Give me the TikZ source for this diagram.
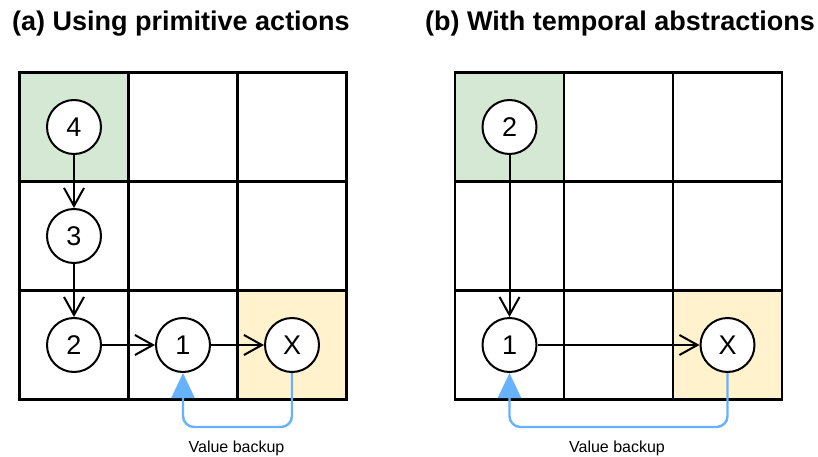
\documentclass[tikz,border=0pt]{standalone}
\usepackage{fontspec}
\setmainfont{Liberation Sans}
\usetikzlibrary{arrows.meta}
\definecolor{cellgreen}{HTML}{D5E8D4}
\definecolor{cellyellow}{HTML}{FFF2CC}
\definecolor{backupblue}{HTML}{66B2FF}
\begin{document}
\begin{tikzpicture}[x=1pt,y=-1pt,
  gridline/.style={line width=2.2pt},
  stnode/.style={circle, draw, line width=2pt, fill=white, minimum size=54pt,
    inner sep=0pt, font=\fontsize{27}{27}\selectfont},
  flow/.style={line width=2pt, -{Straight Barb[length=18pt,width=20pt]}},
  backup/.style={draw=backupblue, line width=2.4pt, rounded corners=11pt,
    -{Triangle[length=25pt,width=23pt,fill=backupblue]}},
  heading/.style={anchor=base west, inner sep=0pt,
    font=\fontsize{27}{27}\selectfont\bfseries},
  caption/.style={anchor=base, inner sep=0pt, font=\fontsize{16}{16}\selectfont}
]
\useasboundingbox (0,0) rectangle (818,457);

% ---------- panel (a): primitive actions ----------
\node[heading] (titlea) at (12,31) {(a) Using primitive actions};
\fill[cellgreen] (19.5,72.5) rectangle ++(109,109);
\fill[cellyellow] (237.5,290.5) rectangle ++(109,109);
\draw[gridline] (19.5,72.5) rectangle (346.5,399.5);
\foreach \t in {128.5,237.5} {\draw[gridline] (\t,72.5) -- (\t,399.5);}
\foreach \t in {181.5,290.5} {\draw[gridline] (19.5,\t) -- (346.5,\t);}

\node[stnode] (a4) at (74,127) {4};
\node[stnode] (a3) at (74,236) {3};
\node[stnode] (a2) at (74,345) {2};
\node[stnode] (a1) at (183,345) {1};
\node[stnode] (ax) at (292,345) {X};

\draw[flow] (a4) -- (a3);
\draw[flow] (a3) -- (a2);
\draw[flow] (a2) -- (a1);
\draw[flow] (a1) -- (ax);
\draw[backup] (ax.south) -- ++(0,54) -| (a1.south);
\node[caption] (capa) at (236.5,452) {Value backup};

% ---------- panel (b): temporal abstractions ----------
\node[heading] (titleb) at (425,31) {(b) With temporal abstractions};
\fill[cellgreen] (455,72.5) rectangle ++(109,109);
\fill[cellyellow] (673,290.5) rectangle ++(109,109);
\draw[gridline] (455,72.5) rectangle (782,399.5);
\foreach \t in {564,673} {\draw[gridline] (\t,72.5) -- (\t,399.5);}
\foreach \t in {181.5,290.5} {\draw[gridline] (455,\t) -- (782,\t);}

\node[stnode] (b2) at (509.5,127) {2};
\node[stnode] (b1) at (509.5,345) {1};
\node[stnode] (bx) at (727.5,345) {X};

\draw[flow] (b2) -- (b1);
\draw[flow] (b1) -- (bx);
\draw[backup] (bx.south) -- ++(0,54) -| (b1.south);
\node[caption] (capb) at (617,452) {Value backup};
\end{tikzpicture}
\end{document}
